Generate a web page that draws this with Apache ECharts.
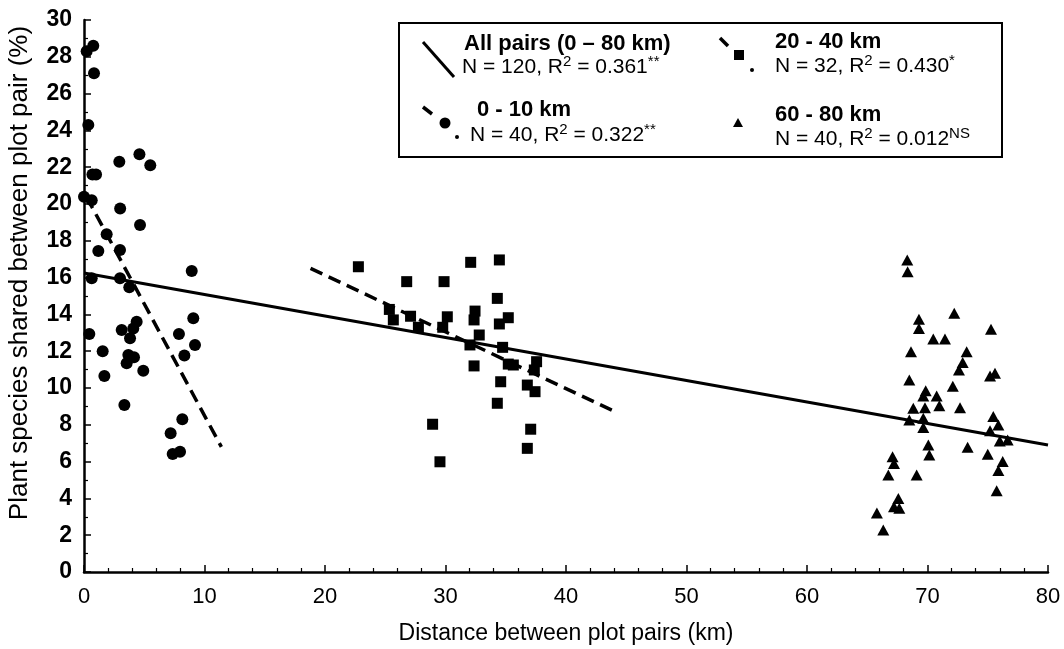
<!DOCTYPE html>
<html>
<head>
<meta charset="utf-8">
<script src="https://cdn.jsdelivr.net/npm/echarts@6/dist/echarts.min.js"></script>
<style>
html,body{margin:0;padding:0;background:#fff;}
#chart{width:1064px;height:649px;}
</style>
</head>
<body>
<div id="chart"></div>
<script>
// ---- data (distance km, % shared species) ----
var circles0to10 = [
  [0.77,28.6],[0.22,28.3],[0.83,27.1],[0.36,24.3],[2.93,22.3],[4.6,22.7],[5.5,22.1],
  [0.7,21.6],[1.0,21.6],[0.64,20.2],[0.0,20.4],[3.0,19.75],[4.65,18.86],[1.88,18.35],
  [1.19,17.45],[2.99,17.5],[8.94,16.36],[0.64,15.96],[2.99,15.96],[3.76,15.47],
  [9.07,13.79],[4.37,13.6],[4.09,13.24],[0.44,12.93],[3.13,13.15],[7.88,12.93],
  [3.82,12.7],[9.21,12.34],[1.55,12.0],[8.33,11.76],[3.68,11.79],[4.15,11.67],
  [3.54,11.34],[4.92,10.94],[1.69,10.65],[3.35,9.08],[8.16,8.3],[7.19,7.54],
  [7.36,6.41],[7.97,6.54]
];
var squares20to40 = [
  [22.77,16.59],[26.78,15.78],[29.88,15.78],[32.09,16.83],[34.47,16.96],[34.3,14.87],
  [25.34,14.27],[25.67,13.7],[27.1,13.9],[27.75,13.3],[30.15,13.87],[29.77,13.3],
  [32.45,14.18],[32.37,13.7],[35.21,13.82],[34.47,13.48],[32.8,12.88],[32.03,12.34],
  [34.74,12.21],[35.21,11.3],[35.63,11.25],[37.56,11.43],[37.37,10.98],[32.37,11.2],
  [34.58,10.34],[36.79,10.16],[37.43,9.8],[34.3,9.17],[28.93,8.03],[37.07,7.76],
  [36.79,6.72],[29.54,5.99]
];
var triangles60to80 = [
  [68.32,16.96],[68.35,16.32],[72.22,14.06],[69.29,13.73],[69.29,13.24],[75.27,13.19],
  [70.48,12.66],[71.45,12.66],[68.63,11.97],[73.25,11.97],[72.92,11.38],[72.61,10.98],
  [68.49,10.43],[75.19,10.65],[75.6,10.8],[72.1,10.1],[69.85,9.85],[69.65,9.57],
  [70.76,9.57],[70.98,9.04],[72.7,8.93],[68.82,8.9],[69.79,8.93],[68.49,8.26],
  [69.65,8.35],[69.65,7.86],[75.46,8.45],[75.88,7.99],[75.19,7.68],[76.0,7.12],
  [76.65,7.17],[73.33,6.78],[70.07,6.9],[70.15,6.36],[75.0,6.4],[76.24,6.0],
  [75.88,5.51],[75.74,4.42],[67.1,6.27],[67.22,5.9],[66.75,5.27],[69.1,5.27],
  [67.58,4.0],[67.22,3.55],[67.66,3.46],[66.33,2.28],[65.8,3.2]
];
var fitAll = [[0,16.25],[80,6.9]];
var fit0to10 = [[0.2,20.4],[11.4,6.8]];
var fit20to40 = [[18.8,16.5],[43.8,8.8]];
var xTicks = {min:0, max:80, step:10};
var yTicks = {min:0, max:30, step:2};
var xName = 'Distance between plot pairs (km)';
var yName = 'Plant species shared between plot pair (%)';
var legendTitles = ['All pairs (0 \u2013 80 km)','0 - 10 km','20 - 40 km','60 - 80 km'];
var legendStats = [
  ['120','0.361','**'],['40','0.322','**'],['32','0.430','*'],['40','0.012','NS']
];

var FONT = '"Liberation Sans", Arial, Helvetica, sans-serif';
var chart = echarts.init(document.getElementById('chart'), null, {renderer:'canvas'});

function statText(s){ return 'N = ' + s[0] + ', R{sup|2} = ' + s[1] + '{sup|' + s[2] + '}'; }
var richSup = { sup: { fontSize: 15, verticalAlign: 'top', fontFamily: FONT, fill: '#000', lineHeight: 22 } };

function titleEl(txt, x, y){
  return { type:'text', x:x, y:y, z:100, style:{ text:txt, fill:'#000', font:'bold 22px ' + FONT, verticalAlign:'middle', align:'left' } };
}
function statEl(s, x, y){
  return { type:'text', x:x, y:y, z:100, style:{ text:statText(s), fill:'#000', fontSize:21, fontFamily:FONT, lineHeight:25, verticalAlign:'middle', align:'left', rich:richSup } };
}

var graphics = [
  { type:'rect', shape:{x:399,y:23,width:603,height:134}, style:{fill:'#fff', stroke:'#000', lineWidth:2}, z:90 },
  // All pairs symbol
  { type:'line', shape:{x1:423,y1:42,x2:454,y2:77}, style:{stroke:'#000', lineWidth:3}, z:100 },
  // 0-10 symbol
  { type:'line', shape:{x1:423,y1:107,x2:432,y2:114}, style:{stroke:'#000', lineWidth:3.5}, z:100 },
  { type:'circle', shape:{cx:445,cy:123,r:5.5}, style:{fill:'#000'}, z:100 },
  { type:'circle', shape:{cx:457,cy:137,r:2}, style:{fill:'#000'}, z:100 },
  // 20-40 symbol
  { type:'line', shape:{x1:720,y1:38,x2:728,y2:46}, style:{stroke:'#000', lineWidth:3.5}, z:100 },
  { type:'rect', shape:{x:734,y:50,width:10,height:10}, style:{fill:'#000'}, z:100 },
  { type:'circle', shape:{cx:752,cy:70,r:2}, style:{fill:'#000'}, z:100 },
  // 60-80 symbol
  { type:'polygon', shape:{points:[[738,118],[743,127],[733,127]]}, style:{fill:'#000'}, z:100 },
  titleEl(legendTitles[0], 464, 44),
  statEl(legendStats[0], 462, 67),
  titleEl(legendTitles[1], 477, 110),
  statEl(legendStats[1], 470, 135),
  titleEl(legendTitles[2], 775, 42),
  statEl(legendStats[2], 775, 66),
  titleEl(legendTitles[3], 775, 115),
  statEl(legendStats[3], 775, 139)
];

var axisCommon = {
  type:'value',
  axisLine:{ show:true, onZero:false, lineStyle:{ color:'#000', width:2.5 } },
  axisTick:{ show:true, inside:true, length:7, lineStyle:{ color:'#000', width:1.5 } },
  minorTick:{ show:true, length:4, lineStyle:{ color:'#000', width:1.2 } },
  splitLine:{ show:false },
  minorSplitLine:{ show:false },
  nameLocation:'middle',
  nameMoveOverlap:false
};

var option = {
  backgroundColor:'#fff',
  animation:false,
  textStyle:{ fontFamily:FONT },
  grid:{ left:84, right:16, top:20, bottom:77, containLabel:false, outerBoundsMode:'none' },
  xAxis: Object.assign({}, axisCommon, {
    min:xTicks.min, max:xTicks.max, interval:xTicks.step,
    minorTick:Object.assign({}, axisCommon.minorTick, {splitNumber:5}),
    axisLabel:{ color:'#000', fontSize:22, fontFamily:FONT, margin:14 },
    name:xName, nameGap:50,
    nameTextStyle:{ color:'#000', fontSize:23, fontFamily:FONT }
  }),
  yAxis: Object.assign({}, axisCommon, {
    min:yTicks.min, max:yTicks.max, interval:yTicks.step,
    minorTick:Object.assign({}, axisCommon.minorTick, {splitNumber:2}),
    axisLabel:{ color:'#000', fontSize:23, fontWeight:'bold', fontFamily:FONT, margin:12 },
    name:yName, nameGap:51, nameRotate:90,
    nameTextStyle:{ color:'#000', fontSize:26, fontFamily:FONT, padding:[0,0,0,46] }
  }),
  graphic: graphics,
  series:[
    { type:'line', data:fitAll, showSymbol:false, symbol:'none', lineStyle:{ color:'#000', width:3, type:'solid' }, z:3 },
    { type:'line', data:fit0to10, showSymbol:false, symbol:'none', lineStyle:{ color:'#000', width:3.5, type:[13,7] }, z:3 },
    { type:'line', data:fit20to40, showSymbol:false, symbol:'none', lineStyle:{ color:'#000', width:3.5, type:[13,7] }, z:3 },
    { type:'scatter', data:circles0to10, symbol:'circle', symbolSize:12, itemStyle:{ color:'#000', opacity:1 }, z:4 },
    { type:'scatter', data:squares20to40, symbol:'rect', symbolSize:11, itemStyle:{ color:'#000', opacity:1 }, z:4 },
    { type:'scatter', data:triangles60to80, symbol:'triangle', symbolSize:[12,11], itemStyle:{ color:'#000', opacity:1 }, z:4 }
  ]
};
chart.setOption(option);
</script>
</body>
</html>
